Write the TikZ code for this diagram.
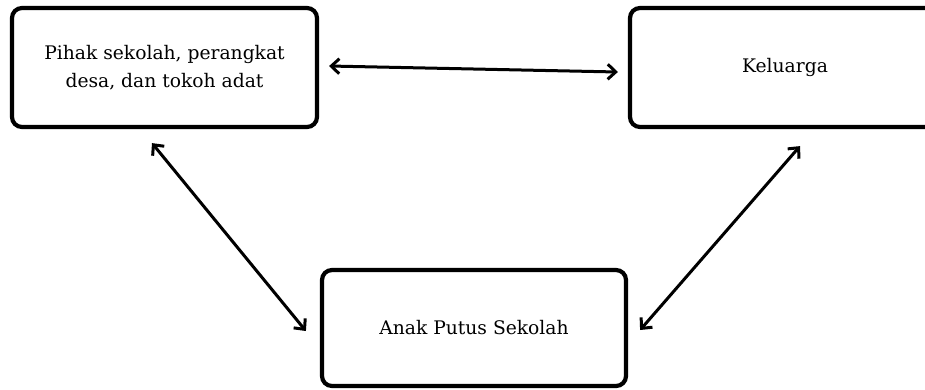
\documentclass[tikz,border=0pt]{standalone}
\usepackage{fontspec}
\setmainfont{DejaVu Serif}
\usetikzlibrary{arrows.meta,calc}
\begin{document}
\begin{tikzpicture}[x=1pt,y=-1pt,
  box/.style={draw=black,line width=4.2pt,rounded corners=10pt,align=center,font=\fontsize{18.7}{28.5}\selectfont,inner sep=0pt},
  tip/.style={Straight Barb[length=8pt,width=15pt,line width=3pt]},
  link/.style={line width=3pt,{Straight Barb[length=8pt,width=15pt,line width=3pt]}-{Straight Barb[length=8pt,width=15pt,line width=3pt]}}]
\useasboundingbox (0,0) rectangle (925,389);
\node[box,minimum width=305pt,minimum height=119pt] (A) at (164.5,67.5) {Pihak sekolah, perangkat\\desa, dan tokoh adat};
\node[box,minimum width=310pt,minimum height=119pt] (B) at (785,67.5) {Keluarga};
\node[box,minimum width=304pt,minimum height=116pt] (C) at (474,328) {Anak Putus Sekolah};
\draw[link] ($(A.east)+(10,-1.5)$) -- ($(B.west)+(-10,4.5)$);
\draw[link] ($(A.south)+(-12.5,14)$) -- ($(C.west)+(-14,3)$);
\draw[link] ($(B.south)+(15,17)$) -- ($(C.east)+(12,2)$);
\end{tikzpicture}
\end{document}
